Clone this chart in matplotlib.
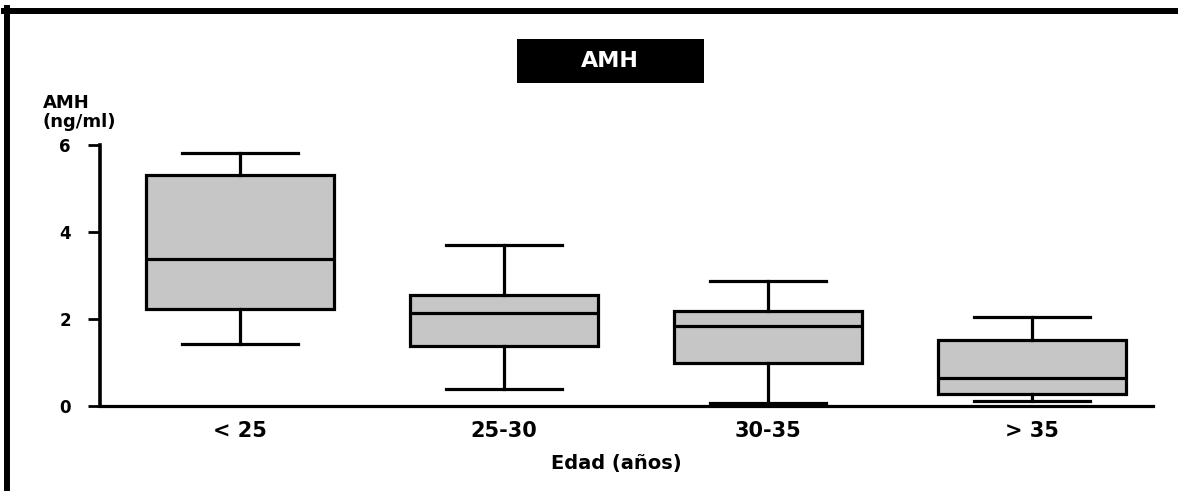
import numpy as np
import matplotlib
matplotlib.use("Agg")
import matplotlib.pyplot as plt
from matplotlib.lines import Line2D
from matplotlib.patches import Rectangle

plt.rcParams['font.family'] = ['DejaVu Sans']
plt.rcParams['font.weight'] = 'bold'

# AMH (ng/ml) por grupo de edad
grupos = ['< 25', '25-30', '30-35', '> 35']
whis_lo = [1.43, 0.39, 0.07, 0.11]
q1 = [2.24, 1.38, 0.99, 0.28]
mediana = [3.39, 2.14, 1.84, 0.64]
q3 = [5.31, 2.55, 2.18, 1.52]
whis_hi = [5.81, 3.70, 2.87, 2.04]
yticks = [0, 2, 4, 6]

stats = []
for i in range(len(grupos)):
    stats.append(dict(label=grupos[i], whislo=whis_lo[i], q1=q1[i], med=mediana[i],
                      q3=q3[i], whishi=whis_hi[i], fliers=[]))

fig = plt.figure(figsize=(11.78, 4.91), dpi=100)
ax = fig.add_axes([0.0849, 0.1731, 0.8939, 0.5316])

pos = np.arange(1, len(grupos) + 1)
ax.bxp(stats, positions=pos, widths=0.712, capwidths=0.44, patch_artist=True,
       showfliers=False,
       boxprops=dict(facecolor='#c6c6c6', edgecolor='black', linewidth=2.3),
       medianprops=dict(color='black', linewidth=2.3),
       whiskerprops=dict(color='black', linewidth=2.3),
       capprops=dict(color='black', linewidth=2.3))

ax.set_xlim(0.47, 4.458)
ax.set_ylim(0, 6)
ax.set_yticks(yticks)
ax.set_yticklabels([str(t) for t in yticks], fontsize=12, fontweight='bold')
ax.set_xticks(pos)
ax.set_xticklabels(grupos, fontsize=15, fontweight='bold')
ax.tick_params(axis='x', length=0, pad=11)
ax.tick_params(axis='y', length=9, width=2, pad=12)
ax.spines['top'].set_visible(False)
ax.spines['right'].set_visible(False)
ax.spines['left'].set_linewidth(2.6)
ax.spines['bottom'].set_linewidth(2.3)
ax.patch.set_alpha(0)

# etiquetas
fig.text(0.0365, 0.771, 'AMH\n(ng/ml)', fontsize=13, fontweight='bold',
         ha='left', va='center', linespacing=1.05)
fig.text(0.523, 0.057, 'Edad (años)', fontsize=14, fontweight='bold',
         ha='center', va='center')

# recuadro del titulo
fig.add_artist(Rectangle((0.4389, 0.831), 0.1587, 0.0896, transform=fig.transFigure,
                         facecolor='black', edgecolor='none'))
fig.text(0.518, 0.876, 'AMH', color='white', fontsize=16, fontweight='bold',
         ha='center', va='center')

# marco
fig.add_artist(Line2D([7 / 1178, 7 / 1178], [0, 1 - 8 / 491], transform=fig.transFigure,
                      color='black', linewidth=4.3))
fig.add_artist(Line2D([4 / 1178, 1], [1 - 11 / 491, 1 - 11 / 491], transform=fig.transFigure,
                      color='black', linewidth=4.3))

fig.savefig('out.png', dpi=100)
